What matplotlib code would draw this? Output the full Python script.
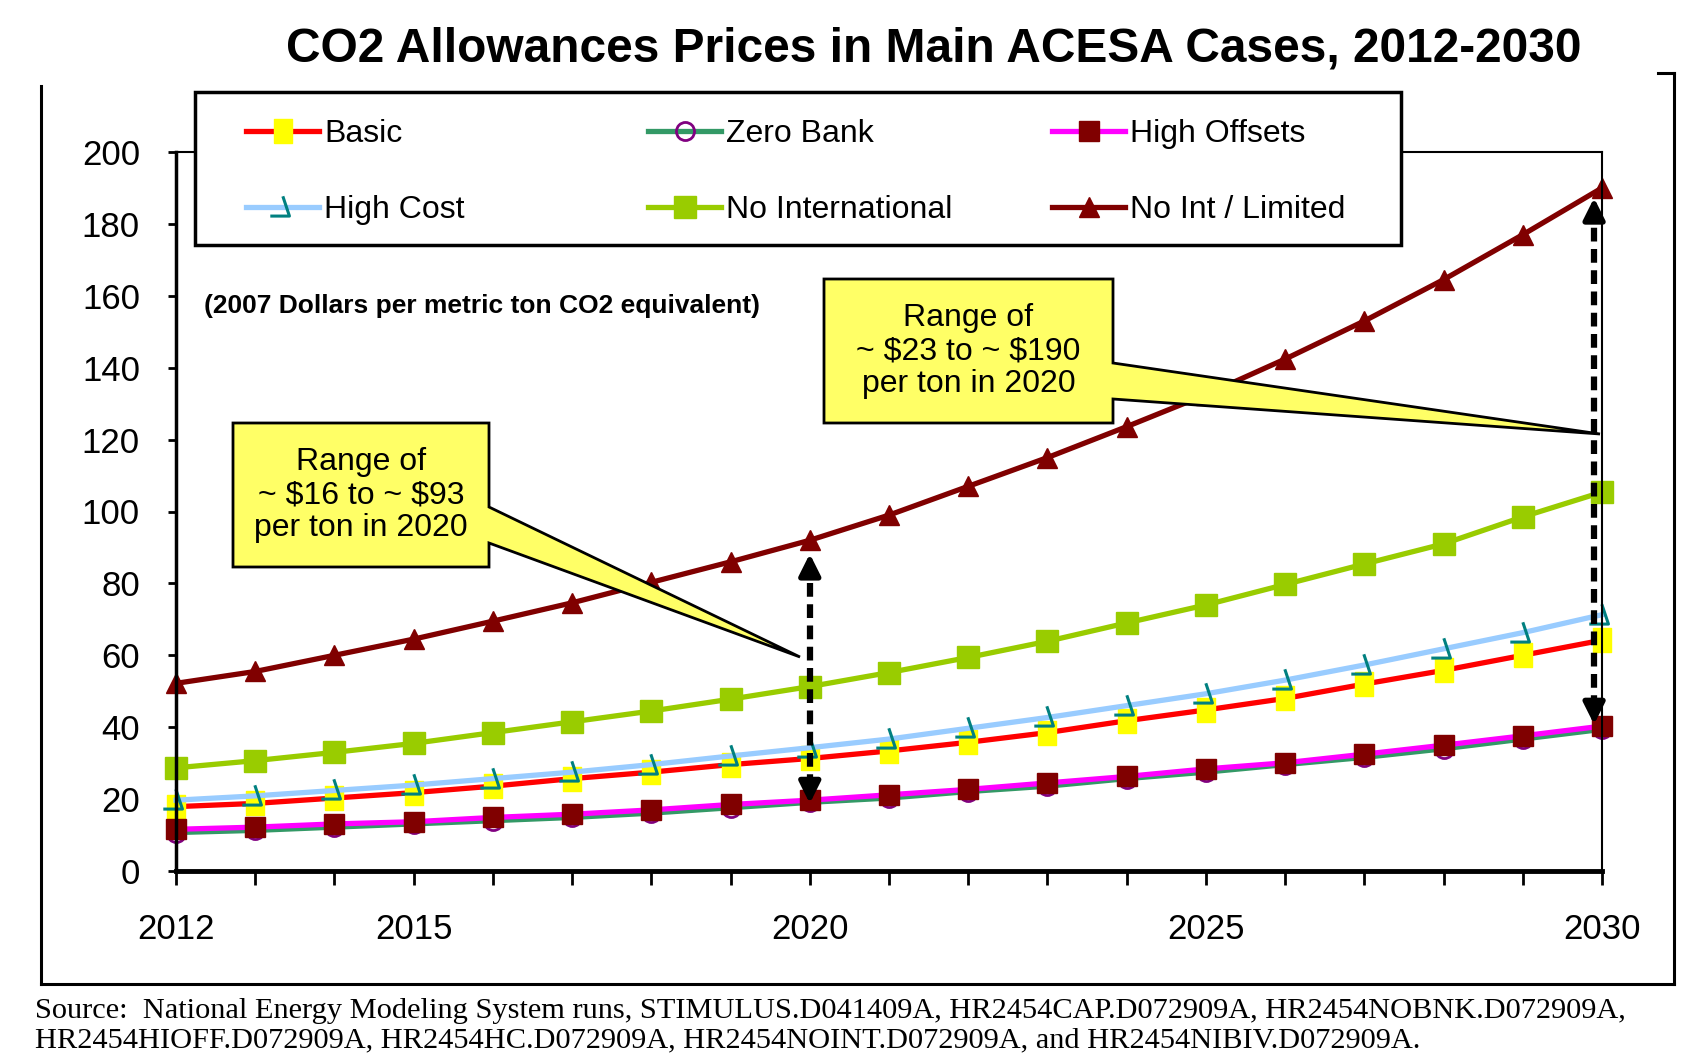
import matplotlib
matplotlib.use('Agg')
import matplotlib.pyplot as plt
from matplotlib.path import Path
from matplotlib.patches import Polygon, Rectangle
from matplotlib.lines import Line2D

plt.rcParams['font.family'] = ['Liberation Sans', 'DejaVu Sans']

# Data
years = list(range(2012, 2031))
basic = [17.9, 18.8, 20.3, 21.8, 23.6, 25.7, 27.5, 29.6, 31.3, 33.4, 35.8, 38.5, 41.8, 44.8, 48.0, 52.0, 55.8, 60.0, 64.2]
zero_bank = [10.7, 11.3, 12.2, 13.1, 14.0, 14.9, 16.1, 17.6, 19.1, 20.3, 22.1, 23.6, 25.7, 27.5, 29.6, 31.6, 34.0, 36.7, 39.4]
high_offsets = [11.6, 12.2, 13.1, 13.7, 14.9, 15.8, 17.0, 18.5, 19.7, 21.2, 22.7, 24.5, 26.3, 28.4, 30.1, 32.5, 35.0, 37.6, 40.3]
high_cost = [19.7, 20.9, 22.4, 23.9, 25.7, 27.5, 29.6, 32.0, 34.3, 36.7, 39.7, 42.7, 46.0, 49.3, 53.1, 57.3, 61.8, 66.3, 71.3]
no_intl = [28.7, 30.7, 33.0, 35.5, 38.5, 41.5, 44.5, 47.8, 51.3, 55.2, 59.4, 63.9, 69.0, 74.0, 79.7, 85.4, 91.0, 98.5, 105.4]
no_int_lim = [52.2, 55.5, 60.0, 64.5, 69.5, 74.6, 80.3, 86.0, 92.0, 99.0, 107.0, 115.0, 123.6, 132.5, 142.4, 153.0, 164.5, 177.0, 190.0]

xtick_years = [2012, 2015, 2020, 2025, 2030]
yticks = list(range(0, 201, 20))

# ranges shown with dashed arrows
range_2020 = (2020, 18, 89)
range_2030 = (2029.9, 40, 188)

title = 'CO2 Allowances Prices in Main ACESA Cases, 2012-2030'
units = '(2007 Dollars per metric ton CO2 equivalent)'
note_2020 = 'Range of\n~ \\$16 to ~ \\$93\nper ton in 2020'
note_2030 = 'Range of\n~ \\$23 to ~ \\$190\nper ton in 2020'
source = ('Source:  National Energy Modeling System runs, STIMULUS.D041409A, HR2454CAP.D072909A, HR2454NOBNK.D072909A,\n'
          'HR2454HIOFF.D072909A, HR2454HC.D072909A, HR2454NOINT.D072909A, and HR2454NIBIV.D072909A.')

W, H = 1683, 1058
fig = plt.figure(figsize=(W / 100, H / 100), dpi=100)


def fx(x):
    return x / W


def fy(y):
    return 1 - y / H


ax = fig.add_axes([fx(176), fy(871), fx(1602) - fx(176), fy(152) - fy(871)])

rect_marker = Path([(-0.4, -0.5), (0.4, -0.5), (0.4, 0.5), (-0.4, 0.5), (-0.4, -0.5)])
hc_marker = Path([(-0.05, 0.85), (0.45, -0.65), (-1.0, -0.65)], [Path.MOVETO, Path.LINETO, Path.LINETO])

lw = 3.8
l_basic, = ax.plot(years, basic, color='#FF0000', lw=lw, marker=rect_marker, ms=17,
                   mfc='#FFFF00', mec='#FFFF00', clip_on=False, label='Basic')
l_zero, = ax.plot(years, zero_bank, color='#339966', lw=lw, marker='o', ms=13,
                  mfc='none', mec='#800080', mew=2, clip_on=False, label='Zero Bank')
l_hioff, = ax.plot(years, high_offsets, color='#FF00FF', lw=lw, marker='s', ms=15,
                   mfc='#800000', mec='#800000', clip_on=False, label='High Offsets')
l_hc, = ax.plot(years, high_cost, color='#99CCFF', lw=lw, marker=hc_marker, ms=19,
                mfc='none', mec='#008080', mew=2.2, clip_on=False, label='High Cost')
l_noint, = ax.plot(years, no_intl, color='#99CC00', lw=lw, marker='s', ms=16,
                   mfc='#99CC00', mec='#99CC00', clip_on=False, label='No International')
l_lim, = ax.plot(years, no_int_lim, color='#800000', lw=lw, marker='^', ms=15,
                 mfc='#800000', mec='#800000', clip_on=False, label='No Int / Limited')

ax.set_xlim(2012, 2030)
ax.set_ylim(0, 200)
ax.set_xticks(years)
ax.set_xticklabels([str(y) if y in xtick_years else '' for y in years])
ax.set_yticks(yticks)
ax.tick_params(axis='x', direction='out', length=10, width=2, pad=20, labelsize=25)
ax.tick_params(axis='y', direction='out', length=6, width=2, pad=20, labelsize=25)
for s in ['top', 'right']:
    ax.spines[s].set_linewidth(1.5)
ax.spines['left'].set_linewidth(2.5)
ax.spines['bottom'].set_linewidth(3.5)

ax.text(fx(204), fy(306), units, transform=fig.transFigure, fontsize=19,
        fontweight='bold', va='center', ha='left')

# dashed range arrows
for xr, lo, hi in [range_2020, range_2030]:
    ax.plot([xr, xr], [lo + 5, hi - 5], color='black', lw=4.5, ls=(0, (2.2, 1.2)), zorder=6)
    ax.annotate('', xy=(xr, hi), xytext=(xr, hi - 6),
                arrowprops=dict(arrowstyle='-|>', color='black', lw=4, mutation_scale=32), zorder=6)
    ax.annotate('', xy=(xr, lo), xytext=(xr, lo + 6),
                arrowprops=dict(arrowstyle='-|>', color='black', lw=4, mutation_scale=32), zorder=6)

# callout boxes (figure pixel layout)
for (x0, x1, y0, y1, wa, wb, tip, txt) in [
        (233, 489, 423, 567, 507, 543, (800, 657), note_2020),
        (824, 1113, 279, 423, 363, 399, (1600, 434), note_2030)]:
    pts = [(x0, y0), (x1, y0), (x1, wa), tip, (x1, wb), (x1, y1), (x0, y1)]
    poly = Polygon([(fx(a), fy(b)) for a, b in pts], closed=True, transform=fig.transFigure,
                   facecolor='#FFFF66', edgecolor='black', lw=2, zorder=8)
    fig.add_artist(poly)
    fig.text(fx((x0 + x1) / 2), fy((y0 + y1) / 2), txt, ha='center', va='center',
             fontsize=23, linespacing=1.15, zorder=9)

# legend frame and columns
fig.add_artist(Rectangle((fx(195), fy(245)), fx(1401) - fx(195), fy(92) - fy(245),
                         transform=fig.transFigure, facecolor='white', edgecolor='black',
                         lw=2.5, zorder=10))
cols = [(246, [l_basic, l_hc]), (648, [l_zero, l_noint]), (1052, [l_hioff, l_lim])]
for xc, hs in cols:
    leg = fig.legend(handles=hs, loc='upper left', bbox_to_anchor=(fx(xc), fy(119)),
                     frameon=False, fontsize=23, handlelength=2.3, handletextpad=0.15,
                     borderpad=0, borderaxespad=0, labelspacing=1.45, numpoints=1)
    leg.set_zorder(11)

fig.text(fx(934), fy(49), title, ha='center', va='center', fontsize=34.5, fontweight='bold')

# outer frame
fl = dict(color='black', lw=2.2, transform=fig.transFigure)
fig.add_artist(Line2D([fx(41), fx(41)], [fy(86), fy(984)], **fl))
fig.add_artist(Line2D([fx(41), fx(1674)], [fy(984), fy(984)], **fl))
fig.add_artist(Line2D([fx(1674), fx(1674)], [fy(73), fy(984)], **fl))
fig.add_artist(Line2D([fx(1658), fx(1674)], [fy(73), fy(73)], **fl))

fig.text(fx(35), fy(1026), source, ha='left', va='center', fontsize=21.9,
         family=['Liberation Serif', 'DejaVu Serif'], linespacing=1.15)

fig.savefig('out.png', dpi=100)
